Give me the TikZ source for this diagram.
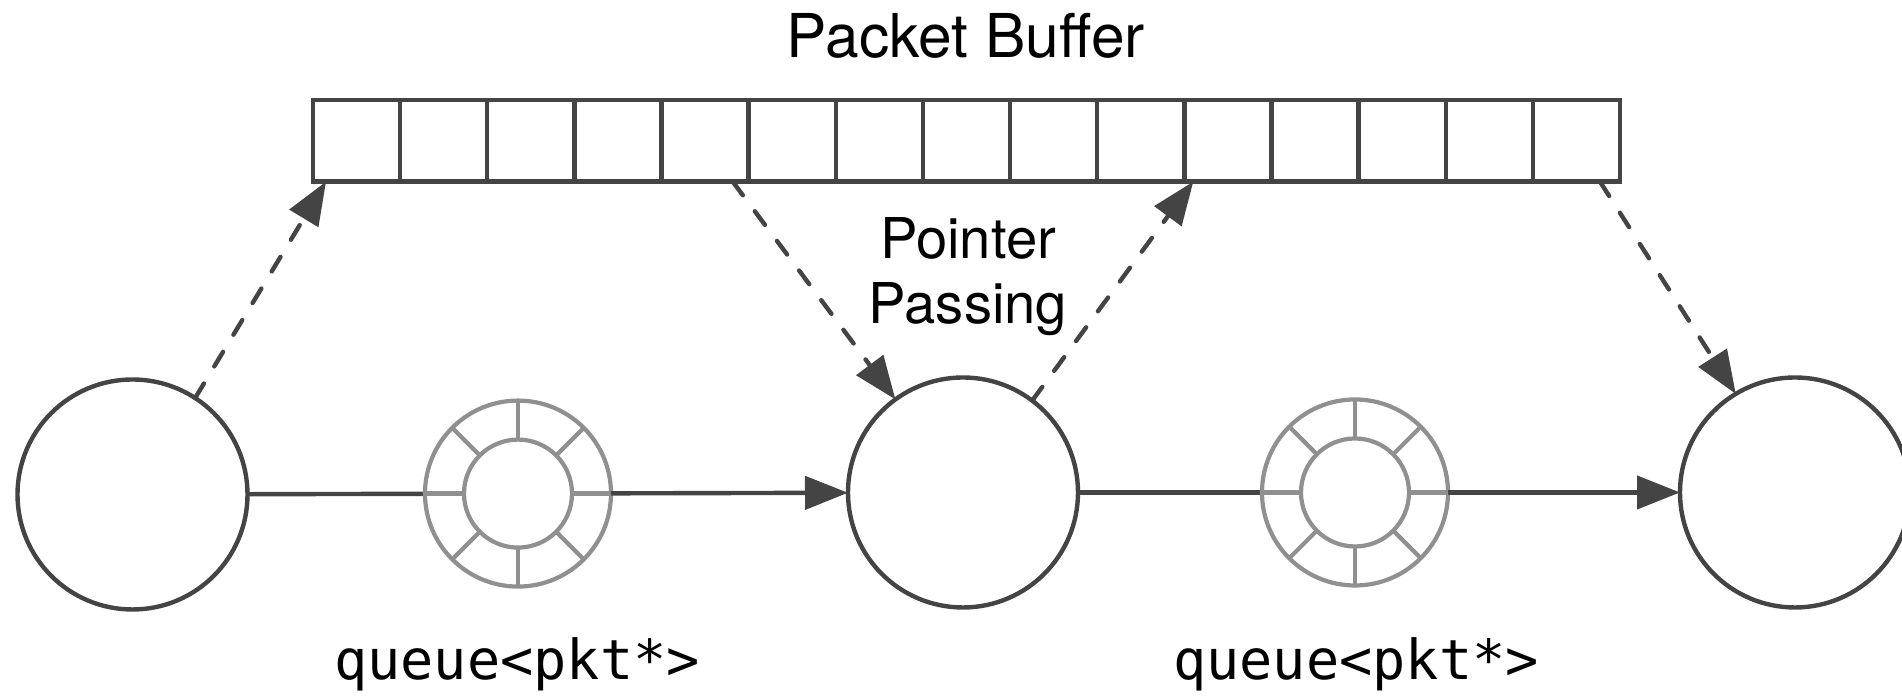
\documentclass[tikz,border=0pt]{standalone}
\usepackage{fontspec}
\setmainfont{TeX Gyre Heros}
\newfontfamily\codefont{DejaVu Sans Mono}
\usetikzlibrary{arrows.meta,positioning,calc}
\definecolor{edge}{HTML}{444444}
\definecolor{ringc}{HTML}{909090}
\tikzset{
  >={Triangle[length=4.3mm,width=3.3mm]},
  task/.style={circle,draw=edge,line width=1.25pt,minimum size=23mm,inner sep=0pt,outer sep=0pt,fill=white},
  cell/.style={rectangle,draw=edge,line width=1.25pt,minimum width=8.713mm,minimum height=8.17mm,inner sep=0pt,outer sep=0pt},
  qring/.style={circle,draw=ringc,line width=1.2pt,minimum size=18.6mm,inner sep=0pt,outer sep=0pt,fill=white},
  rline/.style={draw=ringc,line width=1.2pt},
  link/.style={draw=edge,line width=1.25pt},
  arr/.style={->,draw=edge,line width=1.25pt},
  darr/.style={arr,dash pattern=on 1.7mm off 2mm,line cap=round},
  lab/.style={font=\fontsize{17.2pt}{20pt}\selectfont,inner sep=0pt},
  code/.style={font=\codefont\fontsize{15.7pt}{18pt}\selectfont,inner sep=0pt,anchor=base},
}
\begin{document}
\begin{tikzpicture}[x=0.1mm,y=0.1mm]
\useasboundingbox (0,0) rectangle (1902,699);
% packet buffer
\node[lab,anchor=base] (title) at (966,641) {Packet Buffer};
\node[cell] (b1) at (356.6,558.2) {};
\foreach \i [count=\j from 2] in {1,...,14}
  \node[cell,right=0pt of b\i] (b\j) {};
% stages and queues
\node[task] (c1) at (132.5,204.5) {};
\node[task] (c2) at (963,206.5) {};
\node[task] (c3) at (1795,206.5) {};
\draw[link] (c1) -- (518,205.4);
\draw[link] (c2) -- (1355,206.5);
\node[qring] (q1) at (518,205.4) {};
\node[qring] (q2) at (1355,206.5) {};
\foreach \q in {q1,q2}{
  \draw[rline] (\q) circle[radius=54];
  \foreach \a in {0,45,...,315}
    \draw[rline] ($(\q)+(\a:54)$) -- (\q.\a);
}
\draw[arr] (q1) -- (c2);
\draw[arr] (q2) -- (c3);
\node[code] (l1) at (517,19) {queue<pkt*>};
\node[code] (l2) at (1356,19) {queue<pkt*>};
% pointer passing
\node[lab,font=\fontsize{16pt}{18.5pt}\selectfont,align=center] (pp) at (968,422) {Pointer\\Passing};
\draw[darr] (c1.57.5) -- ([xshift=1.3mm]b1.south west);
\draw[darr] ([xshift=-1.6mm]b5.south east) -- (c2.126);
\draw[darr] (c2.53.3) -- ([xshift=0.9mm]b11.south west);
\draw[darr] ([xshift=-2mm]b15.south east) -- (c3.121.8);
\end{tikzpicture}
\end{document}
